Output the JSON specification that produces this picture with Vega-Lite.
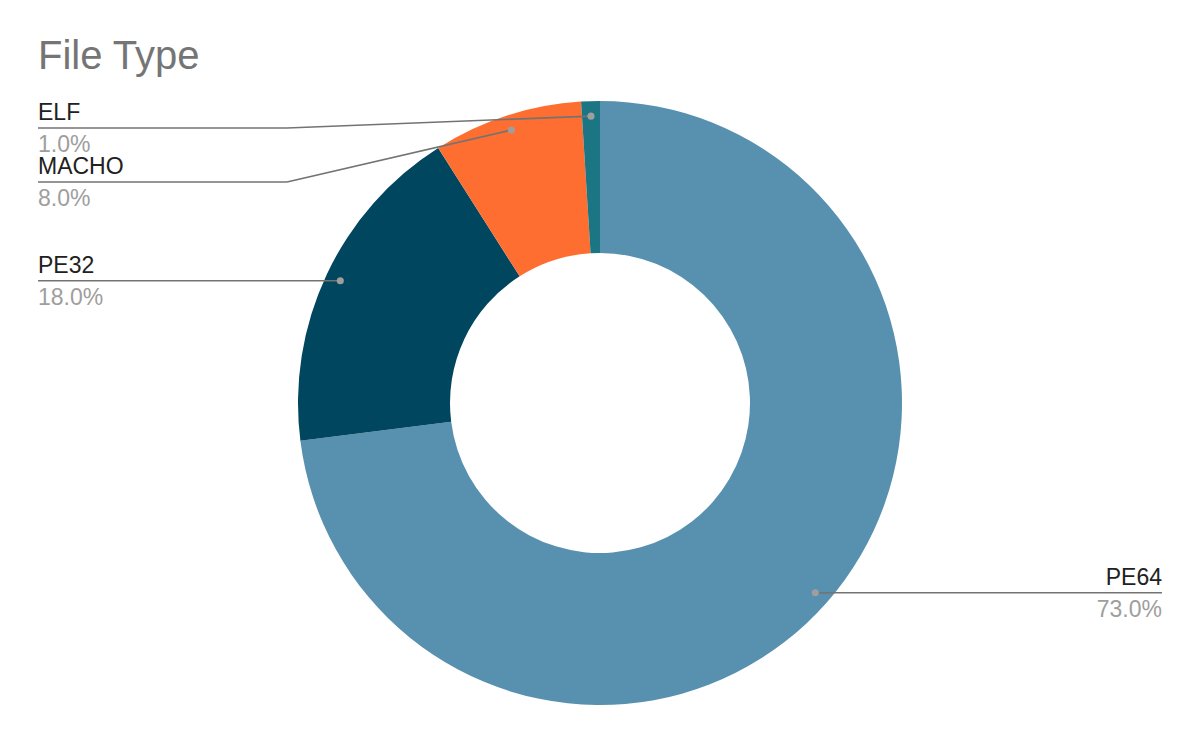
{
  "$schema": "https://vega.github.io/schema/vega-lite/v6.json",
  "width": 1200,
  "height": 742,
  "autosize": {"type": "fit", "contains": "padding"},
  "padding": {"top": 37, "bottom": 26, "left": 0, "right": 0},
  "background": "white",
  "title": {
    "text": "File Type",
    "anchor": "start",
    "frame": "bounds",
    "dx": 38,
    "offset": 13,
    "font": "Liberation Sans",
    "fontSize": 40,
    "fontWeight": "normal",
    "color": "#757575"
  },
  "config": {"view": {"stroke": null}},
  "data": {
    "values": [
      {"type": "PE64", "value": 73},
      {"type": "PE32", "value": 18},
      {"type": "MACHO", "value": 8},
      {"type": "ELF", "value": 1}
    ]
  },
  "transform": [
    {"joinaggregate": [{"op": "sum", "field": "value", "as": "total"}]},
    {"window": [{"op": "sum", "field": "value", "as": "cum"}], "sort": [{"field": "type", "order": "descending"}], "frame": [null, 0]},
    {"calculate": "2*PI*(datum.cum - datum.value/2)/datum.total", "as": "mid"},
    {"calculate": "287*sin(datum.mid)", "as": "dotX"},
    {"calculate": "-287*cos(datum.mid)", "as": "dotY"},
    {"calculate": "datum.dotX < 0 ? 'left' : 'right'", "as": "side"},
    {"window": [{"op": "row_number", "as": "rank"}], "groupby": ["side"], "sort": [{"field": "dotY", "order": "ascending"}]},
    {"calculate": "max(datum.dotY, -275 + 54*(datum.rank-1))", "as": "labelY"},
    {"calculate": "datum.side == 'left' ? -313 : 313", "as": "bendX"},
    {"calculate": "datum.side == 'left' ? -562 : 562", "as": "endX"},
    {"calculate": "datum.value/datum.total", "as": "pct"}
  ],
  "layer": [
    {
      "mark": {"type": "arc", "innerRadius": 150, "outerRadius": 302},
      "encoding": {
        "theta": {"field": "value", "type": "quantitative", "stack": true},
        "color": {
          "field": "type",
          "type": "nominal",
          "sort": "descending",
          "scale": {"domain": ["PE64", "PE32", "MACHO", "ELF"], "range": ["#5891AF", "#01465F", "#FE6E31", "#1B7583"]},
          "legend": null
        },
        "order": {"field": "type", "sort": "descending"}
      }
    },
    {
      "mark": {"type": "rule", "color": "#737373", "strokeWidth": 1.6},
      "encoding": {
        "x": {"field": "dotX", "type": "quantitative", "scale": {"domain": [-600, 600]}, "axis": null},
        "y": {"field": "dotY", "type": "quantitative", "scale": {"domain": [-313, 313], "reverse": true}, "axis": null},
        "x2": {"field": "bendX"},
        "y2": {"field": "labelY"}
      }
    },
    {
      "mark": {"type": "rule", "color": "#737373", "strokeWidth": 1.6},
      "encoding": {
        "x": {"field": "bendX", "type": "quantitative", "scale": {"domain": [-600, 600]}, "axis": null},
        "x2": {"field": "endX"},
        "y": {"field": "labelY", "type": "quantitative", "scale": {"domain": [-313, 313], "reverse": true}, "axis": null}
      }
    },
    {
      "mark": {"type": "circle", "color": "#9E9E9E", "opacity": 1, "size": 50},
      "encoding": {
        "x": {"field": "dotX", "type": "quantitative", "scale": {"domain": [-600, 600]}, "axis": null},
        "y": {"field": "dotY", "type": "quantitative", "scale": {"domain": [-313, 313], "reverse": true}, "axis": null}
      }
    },
    {
      "mark": {"type": "text", "font": "Liberation Sans", "fontSize": 23, "color": "#212121", "baseline": "alphabetic", "dy": -8, "align": {"expr": "datum.side == 'left' ? 'left' : 'right'"}},
      "encoding": {
        "x": {"field": "endX", "type": "quantitative", "scale": {"domain": [-600, 600]}, "axis": null},
        "y": {"field": "labelY", "type": "quantitative", "scale": {"domain": [-313, 313], "reverse": true}, "axis": null},
        "text": {"field": "type", "type": "nominal"}
      }
    },
    {
      "mark": {"type": "text", "font": "Liberation Sans", "fontSize": 23, "color": "#9E9E9E", "baseline": "alphabetic", "dy": 24, "align": {"expr": "datum.side == 'left' ? 'left' : 'right'"}},
      "encoding": {
        "x": {"field": "endX", "type": "quantitative", "scale": {"domain": [-600, 600]}, "axis": null},
        "y": {"field": "labelY", "type": "quantitative", "scale": {"domain": [-313, 313], "reverse": true}, "axis": null},
        "text": {"field": "pct", "type": "quantitative", "format": ".1%"}
      }
    }
  ]
}
